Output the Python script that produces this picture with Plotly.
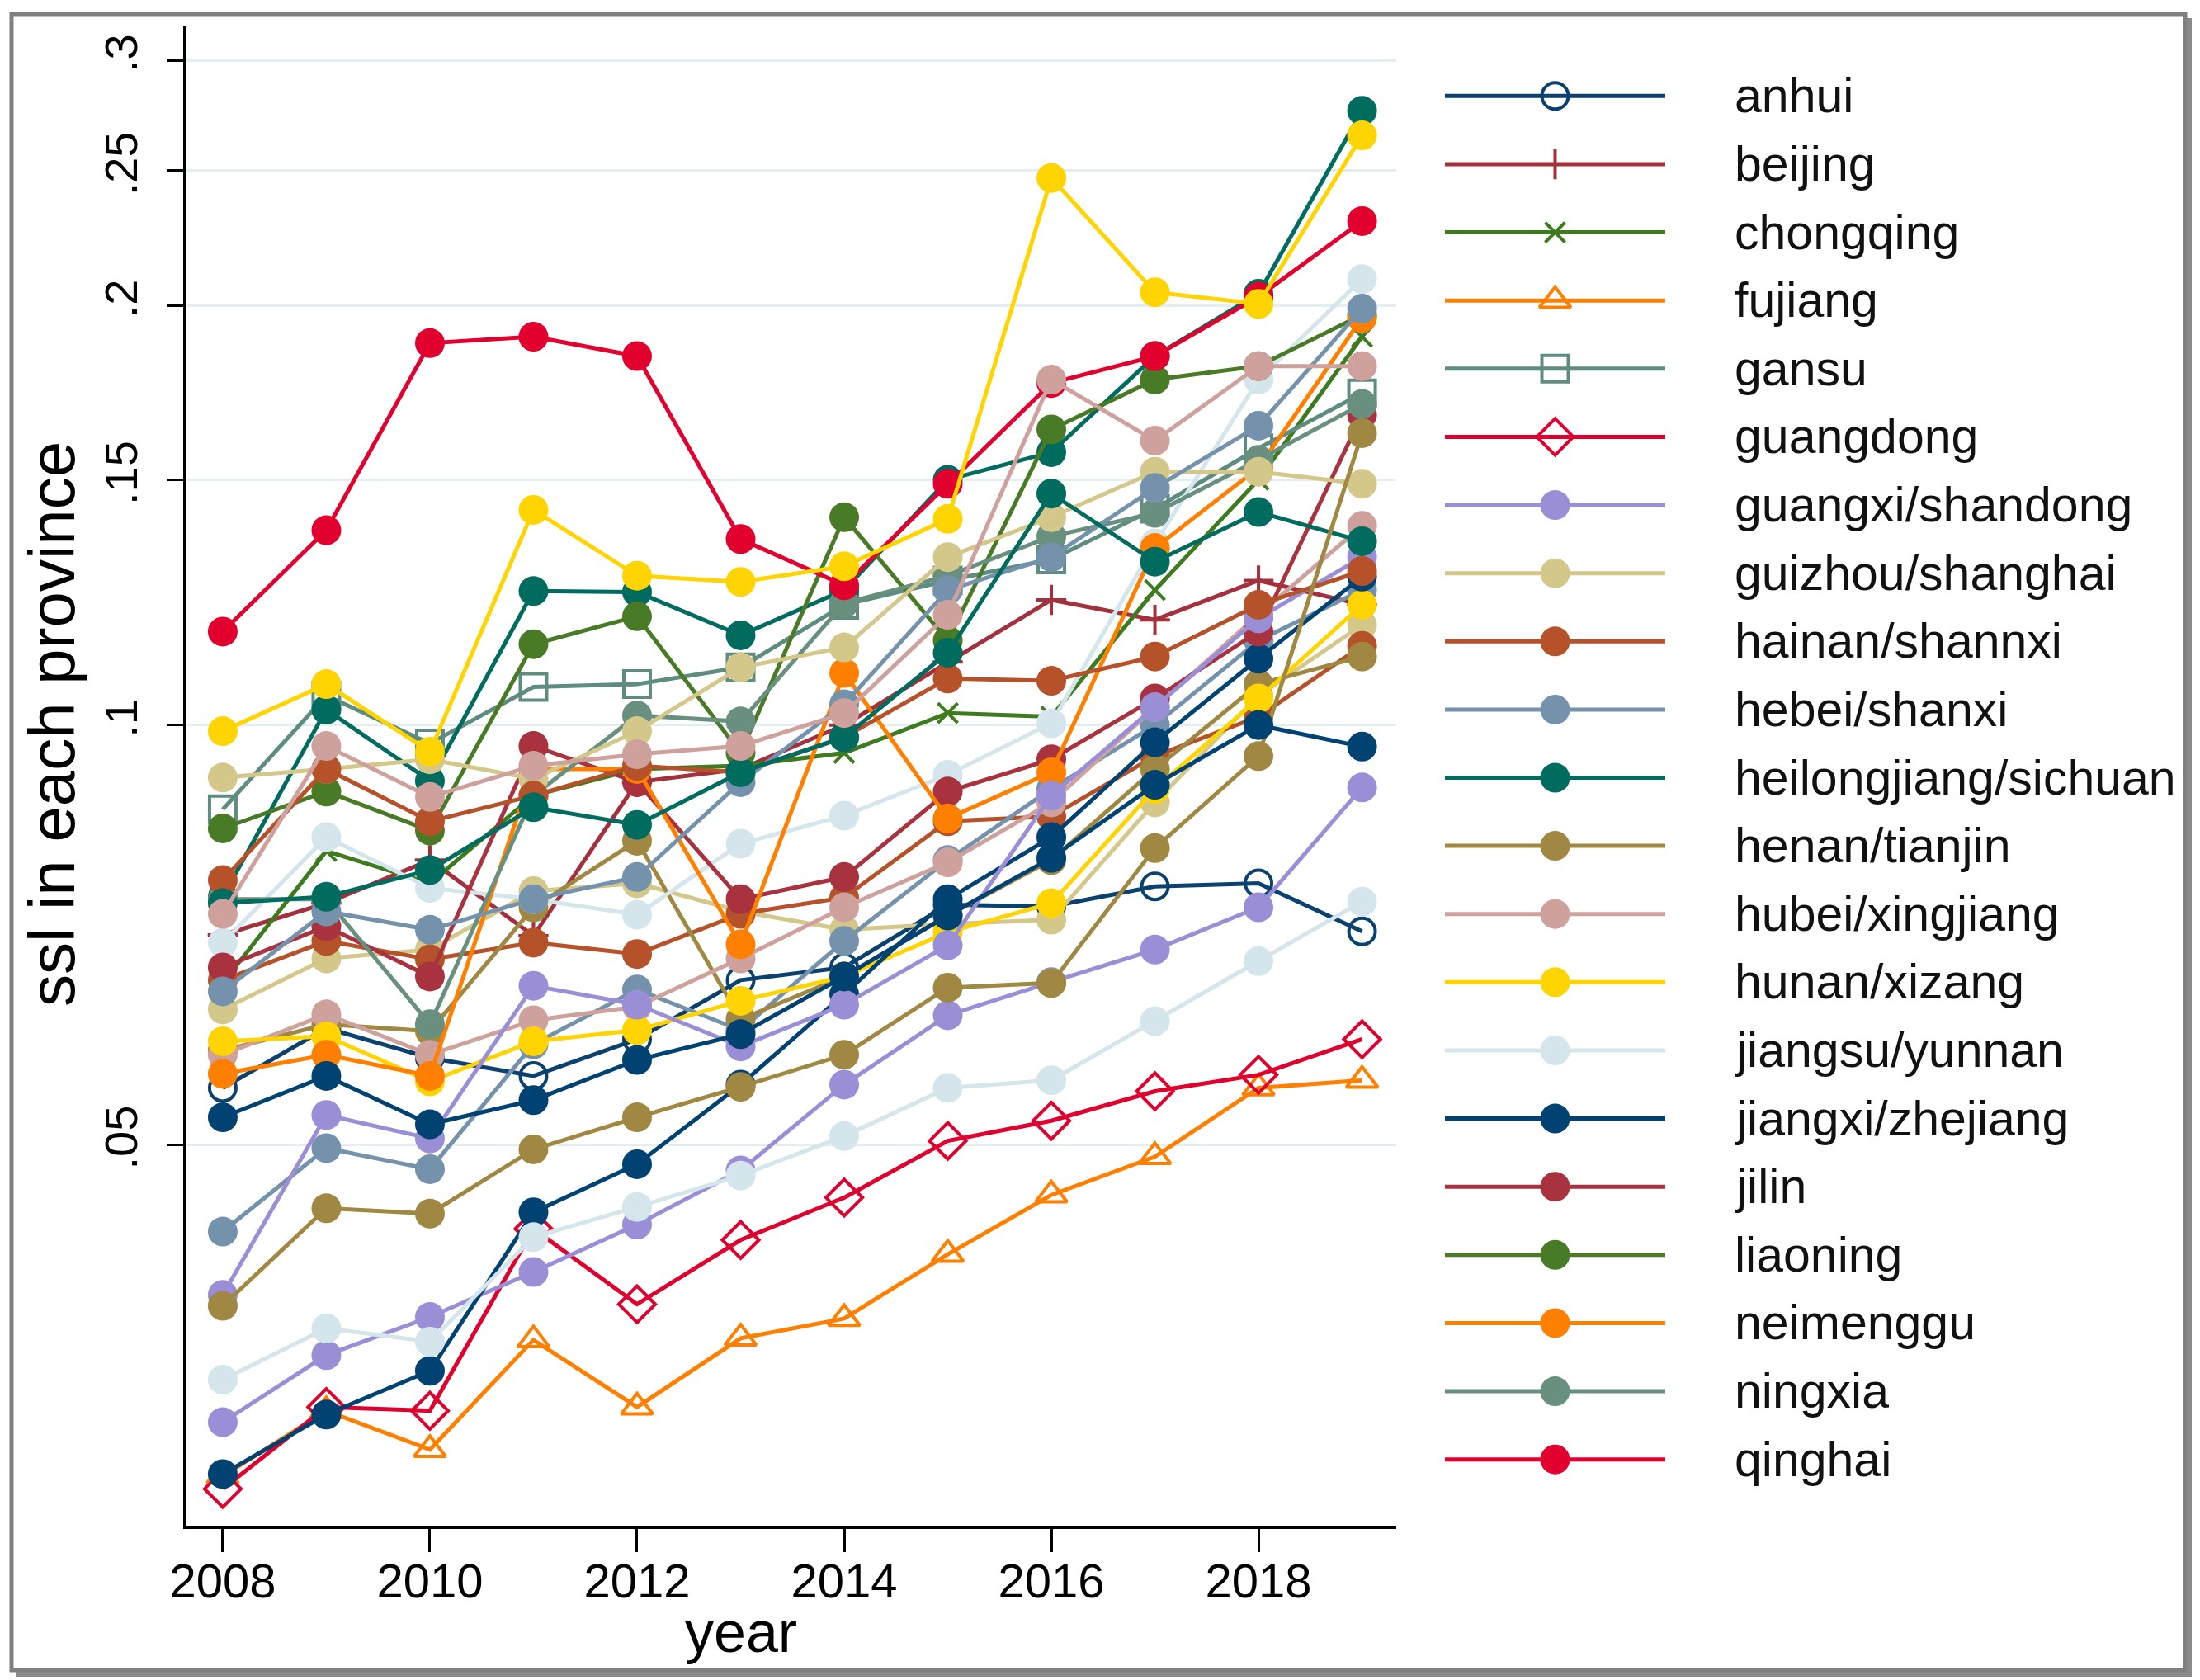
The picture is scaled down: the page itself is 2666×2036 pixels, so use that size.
import plotly.graph_objects as go
import math

# ---------------- data ----------------
years = list(range(2008, 2020))

anhui = [0.0549, 0.0606, 0.0577, 0.0560, 0.0595, 0.0656, 0.0670, 0.0743, 0.0741, 0.0766, 0.0770, 0.0711]
beijing = [0.0707, 0.0745, 0.0800, 0.0706, 0.0910, 0.0930, 0.1000, 0.1110, 0.1230, 0.1190, 0.1270, 0.1220]
chongqing = [0.0653, 0.0812, 0.0770, 0.0890, 0.0930, 0.0935, 0.0955, 0.1020, 0.1014, 0.1250, 0.1500, 0.1900]
fujian = [0.0289, 0.0322, 0.0302, 0.0362, 0.0324, 0.0363, 0.0375, 0.0417, 0.0460, 0.0490, 0.0549, 0.0556]
gansu = [0.0870, 0.1050, 0.0970, 0.1065, 0.1070, 0.1100, 0.1220, 0.1270, 0.1315, 0.1430, 0.1580, 0.1730]
guangdong = [0.0283, 0.0324, 0.0322, 0.0435, 0.0384, 0.0427, 0.0458, 0.0503, 0.0520, 0.0546, 0.0561, 0.0595]
guangxi = [0.0316, 0.0353, 0.0376, 0.0405, 0.0438, 0.0479, 0.0552, 0.0619, 0.0654, 0.0690, 0.0740, 0.0902]
guizhou = [0.0625, 0.0680, 0.0690, 0.0760, 0.0770, 0.0735, 0.0713, 0.0720, 0.0725, 0.0880, 0.1050, 0.1180]
hainan = [0.0656, 0.0700, 0.0679, 0.0698, 0.0685, 0.0732, 0.0752, 0.0853, 0.0860, 0.0950, 0.1014, 0.1140]
hebei = [0.0433, 0.0497, 0.0480, 0.0590, 0.0646, 0.0604, 0.0700, 0.0800, 0.0900, 0.1000, 0.1150, 0.1250]
heilongjiang = [0.0753, 0.1026, 0.0912, 0.1248, 0.1246, 0.1160, 0.1250, 0.1500, 0.1570, 0.1840, 0.2040, 0.2760]
henan = [0.0584, 0.0610, 0.0603, 0.0740, 0.0826, 0.0615, 0.0660, 0.0730, 0.0800, 0.0930, 0.1070, 0.1120]
hubei = [0.0580, 0.0620, 0.0580, 0.0614, 0.0628, 0.0680, 0.0740, 0.0797, 0.0880, 0.1030, 0.1200, 0.1390]
hunan = [0.0593, 0.0598, 0.0555, 0.0593, 0.0604, 0.0634, 0.0660, 0.0710, 0.0745, 0.0900, 0.1045, 0.1220]
jiangsu = [0.0698, 0.0831, 0.0764, 0.0750, 0.0731, 0.0822, 0.0861, 0.0921, 0.1003, 0.1350, 0.1770, 0.2090]
jiangxi = [0.0290, 0.0320, 0.0344, 0.0447, 0.0484, 0.0552, 0.0641, 0.0750, 0.0831, 0.0972, 0.1116, 0.1278]
jilin = [0.0670, 0.0717, 0.0660, 0.0966, 0.0910, 0.0750, 0.0778, 0.0896, 0.0945, 0.1045, 0.1167, 0.1670]
liaoning = [0.0843, 0.0896, 0.0840, 0.1143, 0.1197, 0.0955, 0.1410, 0.1150, 0.1630, 0.1770, 0.1810, 0.1970]
neimenggu = [0.0562, 0.0580, 0.0560, 0.0930, 0.0930, 0.0696, 0.1090, 0.0857, 0.0925, 0.1340, 0.1530, 0.1960]
ningxia = [0.0750, 0.0750, 0.0610, 0.0890, 0.1016, 0.1006, 0.1223, 0.1280, 0.1366, 0.1420, 0.1550, 0.1700]
qinghai = [0.1167, 0.1380, 0.1880, 0.1900, 0.1840, 0.1360, 0.1260, 0.1490, 0.1760, 0.1840, 0.2030, 0.2300]
shandong = [0.0390, 0.0525, 0.0505, 0.0650, 0.0630, 0.0588, 0.0630, 0.0695, 0.0890, 0.1030, 0.1193, 0.1320]
shanghai = [0.0917, 0.0930, 0.0945, 0.0915, 0.0990, 0.1100, 0.1137, 0.1320, 0.1410, 0.1520, 0.1520, 0.1490]
shannxi = [0.0774, 0.0930, 0.0853, 0.0890, 0.0935, 0.0925, 0.0980, 0.1080, 0.1076, 0.1120, 0.1220, 0.1290]
shanxi = [0.0644, 0.0735, 0.0713, 0.0750, 0.0778, 0.0910, 0.1035, 0.1250, 0.1320, 0.1480, 0.1640, 0.1990]
sichuan = [0.0745, 0.0753, 0.0787, 0.0873, 0.0848, 0.0925, 0.0980, 0.1127, 0.1466, 0.1310, 0.1422, 0.1355]
tianjin = [0.0383, 0.0450, 0.0446, 0.0496, 0.0523, 0.0550, 0.0580, 0.0648, 0.0653, 0.0816, 0.0950, 0.1620]
xinjiang = [0.0732, 0.0966, 0.0888, 0.0935, 0.0953, 0.0966, 0.1020, 0.1200, 0.1770, 0.1600, 0.1810, 0.1810]
xizang = [0.0990, 0.1070, 0.0957, 0.1427, 0.1280, 0.1267, 0.1300, 0.1406, 0.2470, 0.2045, 0.2006, 0.2650]
yunnan = [0.0339, 0.0369, 0.0361, 0.0429, 0.0451, 0.0475, 0.0507, 0.0549, 0.0556, 0.0613, 0.0677, 0.0747]
zhejiang = [0.0523, 0.0560, 0.0517, 0.0538, 0.0575, 0.0600, 0.0660, 0.0730, 0.0803, 0.0906, 0.1000, 0.0965]

legend_labels = ["anhui", "beijing", "chongqing", "fujiang", "gansu", "guangdong",
                 "guangxi/shandong", "guizhou/shanghai", "hainan/shannxi", "hebei/shanxi",
                 "heilongjiang/sichuan", "henan/tianjin", "hubei/xingjiang", "hunan/xizang",
                 "jiangsu/yunnan", "jiangxi/zhejiang", "jilin", "liaoning", "neimenggu",
                 "ningxia", "qinghai"]

xtick_vals = [2008, 2010, 2012, 2014, 2016, 2018]
ytick_vals = [0.05, 0.1, 0.15, 0.2, 0.25, 0.3]
ytick_text = [".05", ".1", ".15", ".2", ".25", ".3"]

# provinces in drawing order, with index of their legend style
provinces = [
    ("anhui", anhui, 0), ("beijing", beijing, 1), ("chongqing", chongqing, 2),
    ("fujian", fujian, 3), ("gansu", gansu, 4), ("guangdong", guangdong, 5),
    ("guangxi", guangxi, 6), ("guizhou", guizhou, 7), ("hainan", hainan, 8),
    ("hebei", hebei, 9), ("heilongjiang", heilongjiang, 10), ("henan", henan, 11),
    ("hubei", hubei, 12), ("hunan", hunan, 13), ("jiangsu", jiangsu, 14),
    ("jiangxi", jiangxi, 15), ("jilin", jilin, 16), ("liaoning", liaoning, 17),
    ("neimenggu", neimenggu, 18), ("ningxia", ningxia, 19), ("qinghai", qinghai, 20),
    ("shandong", shandong, 6), ("shanghai", shanghai, 7), ("shannxi", shannxi, 8),
    ("shanxi", shanxi, 9), ("sichuan", sichuan, 10), ("tianjin", tianjin, 11),
    ("xinjiang", xinjiang, 12), ("xizang", xizang, 13), ("yunnan", yunnan, 14),
    ("zhejiang", zhejiang, 15),
]

# ---------------- styles ----------------
colors = ["#0B416F", "#A3303D", "#3E7A1E", "#FF7F00", "#5F8C81", "#E0002D",
          "#9A8FD6", "#D3C78A", "#B5522A", "#7592AD", "#006B5F", "#A08842",
          "#CFA19C", "#FFD400", "#D4E5EB", "#004272", "#A8323E", "#497A25",
          "#FF7F00", "#69907F", "#E2002F"]
symbols = ["circle-open", "cross-thin-open", "x-thin-open", "triangle-up-open",
           "square-open", "diamond-open"] + ["circle"] * 15
sizes = [32, 26, 24, 33, 32, 34] + [36] * 15
mlw = [4, 4, 4, 4, 4, 4] + [0] * 15

FONT = "Arial, Liberation Sans, sans-serif"
OFF = 8                 # page offset of the plot div (body margin)
W, H = 2666 - OFF, 2036 - OFF
ML, MR, MT, MB = 226 - OFF, 12, 32 - OFF, 195 - OFF
PLOT_R = 1692           # right edge of the data area (page px)
PW, PH = W - ML - MR, H - MT - MB


def px_x(px):
    return (px - OFF - ML) / PW


def px_y(py):
    return (H - MB - (py - OFF)) / PH


fig = go.Figure()

for name, vals, k in provinces:
    fig.add_trace(go.Scatter(
        x=years, y=vals, mode="lines+markers", name=name,
        line=dict(color=colors[k], width=5),
        marker=dict(symbol=symbols[k], size=sizes[k], color=colors[k],
                    line=dict(color=colors[k], width=mlw[k])),
        showlegend=False, xaxis="x", yaxis="y"))

# ---------------- custom legend ----------------
LEG_Y0, LEG_DY = 116, 82.25
LEG_X0, LEG_X1, LEG_TX = 1751, 2018, 2100
for i, lab in enumerate(legend_labels):
    fig.add_trace(go.Scatter(
        x=[0, 1], y=[i, i], mode="lines", line=dict(color=colors[i], width=5),
        showlegend=False, hoverinfo="skip", xaxis="x2", yaxis="y2"))
    fig.add_trace(go.Scatter(
        x=[0.5], y=[i], mode="markers",
        marker=dict(symbol=symbols[i], size=sizes[i], color=colors[i],
                    line=dict(color=colors[i], width=mlw[i])),
        showlegend=False, hoverinfo="skip", xaxis="x2", yaxis="y2"))
    fig.add_annotation(x=px_x(LEG_TX), xref="paper", y=i, yref="y2",
                       text=lab, showarrow=False, xanchor="left", yanchor="middle",
                       font=dict(family=FONT, size=59, color="#111111"))

ylo = math.log10(0.02663)
yhi = math.log10(0.3173)

fig.update_layout(
    width=W, height=H,
    margin=dict(l=ML, r=MR, t=MT, b=MB),
    paper_bgcolor="white", plot_bgcolor="white",
    font=dict(family=FONT, color="black"),
    showlegend=False,
    xaxis=dict(domain=[0, px_x(PLOT_R)], range=[2007.65, 2019.33],
               tickvals=xtick_vals, ticks="outside", ticklen=28, tickwidth=2.5,
               tickcolor="black", showline=True, linecolor="black", linewidth=3.5,
               showgrid=False, zeroline=False, ticklabelstandoff=-14,
               tickfont=dict(family=FONT, size=58, color="black")),
    yaxis=dict(domain=[0, 1], type="log", range=[ylo, yhi],
               tickvals=ytick_vals, ticktext=ytick_text, tickangle=-90,
               ticks="outside", ticklen=20, tickwidth=2.5, tickcolor="black",
               showline=True, linecolor="black", linewidth=3.5,
               showgrid=True, gridcolor="#E3EEF1", gridwidth=3, zeroline=False,
               ticklabelstandoff=14,
               tickfont=dict(family=FONT, size=56, color="black")),
    xaxis2=dict(domain=[px_x(LEG_X0), px_x(LEG_X1)], range=[0, 1], visible=False,
                fixedrange=True),
    yaxis2=dict(domain=[0, 1], visible=False, fixedrange=True,
                range=[(2036 - 195 - LEG_Y0) / LEG_DY, (32 - LEG_Y0) / LEG_DY],
                anchor="x2"),
)
fig.update_layout(xaxis2_anchor="y2")

# axis titles
fig.add_annotation(x=px_x(898), y=px_y(1978), xref="paper", yref="paper",
                   text="year", showarrow=False, xanchor="center", yanchor="middle",
                   font=dict(family=FONT, size=70, color="black"))
fig.add_annotation(x=px_x(63), y=px_y(878), xref="paper", yref="paper",
                   text="ssl in each province", showarrow=False, textangle=-90,
                   xanchor="center", yanchor="middle",
                   font=dict(family=FONT, size=78, color="black"))

# outer frame with shadow
fig.add_shape(type="rect", xref="paper", yref="paper",
              x0=px_x(14), x1=px_x(2648), y0=px_y(2024), y1=px_y(17),
              line=dict(color="#808080", width=5), fillcolor="rgba(0,0,0,0)",
              layer="above")
fig.add_shape(type="line", xref="paper", yref="paper",
              x0=px_x(2653), x1=px_x(2653), y0=px_y(2029), y1=px_y(22),
              line=dict(color="#8a8a8a", width=6))
fig.add_shape(type="line", xref="paper", yref="paper",
              x0=px_x(19), x1=px_x(2656), y0=px_y(2029), y1=px_y(2029),
              line=dict(color="#8a8a8a", width=6))

fig.write_html("out.html")
